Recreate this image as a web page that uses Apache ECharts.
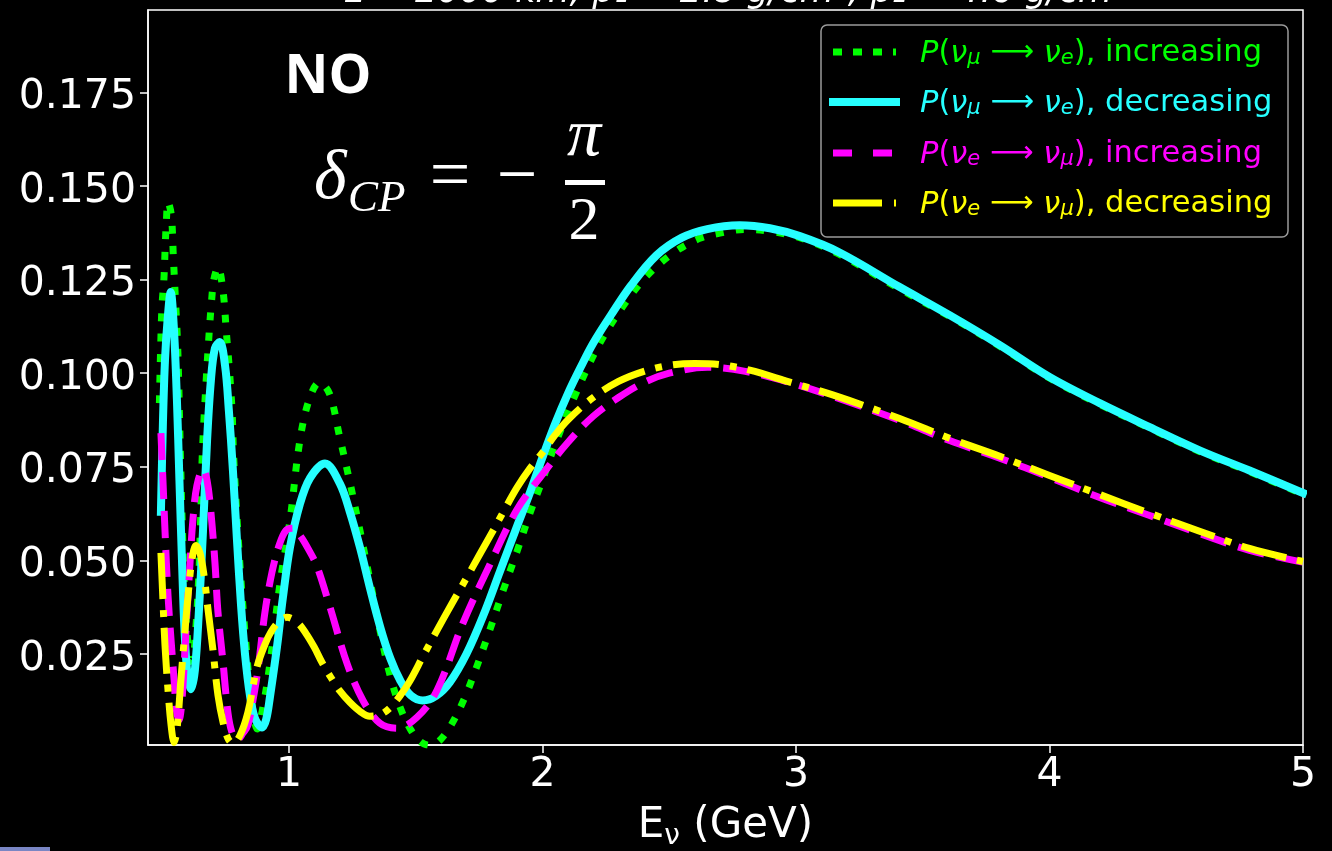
<!DOCTYPE html>
<html>
<head>
<meta charset="utf-8">
<script src="https://cdn.jsdelivr.net/npm/echarts@6/dist/echarts.min.js"></script>
<style>
html,body{margin:0;padding:0;background:#000;}
#chart{width:1332px;height:851px;}
</style>
</head>
<body>
<div id="chart"></div>
<script>
// ---------- data (E in GeV, probability) ----------
const xTicks = [1, 2, 3, 4, 5];
const yTicks = [0.025, 0.05, 0.075, 0.1, 0.125, 0.15, 0.175];
const seriesNames = [
  'P(νμ→νe), increasing',
  'P(νμ→νe), decreasing',
  'P(νe→νμ), increasing',
  'P(νe→νμ), decreasing'
];

const numuNueIncreasing = [
  [0.489,0.092],[0.494,0.107],[0.499,0.1177],[0.507,0.1255],[0.512,0.134],[0.516,0.14],[0.523,0.1457],
  [0.536,0.1422],[0.544,0.131],[0.552,0.120],[0.56,0.109],[0.565,0.098],[0.572,0.078],[0.58,0.058],
  [0.59,0.040],[0.60,0.029],[0.612,0.023],[0.622,0.024],[0.632,0.031],[0.645,0.047],[0.652,0.062],
  [0.657,0.076],[0.664,0.0866],[0.673,0.0975],[0.683,0.1085],[0.695,0.1195],[0.704,0.1251],[0.72,0.1283],
  [0.74,0.1219],[0.753,0.111],[0.766,0.100],[0.776,0.0893],[0.782,0.0775],[0.806,0.0495],[0.83,0.028],
  [0.85,0.014],[0.875,0.005],[0.9,0.0118],[0.925,0.0225],[0.965,0.044],[1.004,0.0607],[1.043,0.082],
  [1.08,0.093],[1.12,0.0975],[1.16,0.0945],[1.20,0.083],[1.24,0.071],[1.28,0.058],[1.32,0.0445],
  [1.36,0.031],[1.40,0.019],[1.44,0.0105],[1.48,0.0048],[1.52,0.0015],[1.556,0.0006],[1.59,0.0016],
  [1.635,0.0055],[1.69,0.0128],[1.74,0.0215],[1.79,0.031],[1.84,0.041],[1.90,0.0525],[1.95,0.0625],
  [2.0,0.0715],[2.05,0.081],[2.128,0.094],[2.226,0.108],[2.325,0.1186],[2.412,0.126],[2.514,0.132],
  [2.62,0.136],[2.7,0.1374],[2.798,0.1384],[2.897,0.1379],[3.015,0.1362],[3.17,0.1318],[3.409,0.1225],
  [3.606,0.1152],[3.804,0.1072],[4.0,0.0987],[4.198,0.0917],[4.395,0.0853],[4.592,0.0791],[4.789,0.0737],
  [5.0,0.0677]
];

const numuNueDecreasing = [
  [0.495,0.063],[0.503,0.087],[0.511,0.1035],[0.521,0.114],[0.5335,0.1217],[0.5465,0.1115],[0.558,0.093],
  [0.568,0.0714],[0.578,0.050],[0.588,0.0313],[0.600,0.0193],[0.6135,0.0156],[0.629,0.0207],[0.645,0.0367],
  [0.661,0.058],[0.677,0.082],[0.692,0.098],[0.708,0.1067],[0.727,0.1083],[0.748,0.102],[0.763,0.090],
  [0.779,0.074],[0.795,0.0554],[0.811,0.038],[0.827,0.0247],[0.846,0.014],[0.866,0.0078],[0.894,0.0054],
  [0.91,0.0075],[0.925,0.0135],[0.953,0.027],[0.976,0.040],[1.004,0.0535],[1.043,0.065],[1.083,0.072],
  [1.142,0.0759],[1.201,0.0705],[1.24,0.063],[1.28,0.0535],[1.32,0.0425],[1.36,0.0322],[1.40,0.0238],
  [1.44,0.0178],[1.48,0.014],[1.528,0.0126],[1.58,0.0138],[1.635,0.0175],[1.70,0.025],[1.765,0.035],
  [1.832,0.047],[1.899,0.059],[1.95,0.068],[2.0,0.0775],[2.05,0.0865],[2.1,0.0945],[2.15,0.1015],
  [2.2,0.108],[2.27,0.1155],[2.35,0.1235],[2.45,0.1315],[2.55,0.1362],[2.65,0.1385],[2.778,0.1395],
  [2.897,0.1387],[3.015,0.1366],[3.17,0.1323],[3.409,0.123],[3.606,0.1155],[3.804,0.1075],[4.0,0.099],
  [4.198,0.092],[4.395,0.0856],[4.592,0.0794],[4.789,0.074],[5.0,0.068]
];

const nueNumuIncreasing = [
  [0.495,0.084],[0.503,0.0714],[0.511,0.058],[0.523,0.0406],[0.535,0.0287],[0.547,0.018],[0.556,0.010],
  [0.566,0.0073],[0.578,0.0126],[0.594,0.0316],[0.608,0.0473],[0.621,0.0607],[0.637,0.070],[0.661,0.0743],
  [0.677,0.0714],[0.692,0.063],[0.708,0.0495],[0.72,0.0362],[0.74,0.0228],[0.759,0.0095],[0.775,0.0041],
  [0.795,0.002],[0.819,0.0039],[0.838,0.006],[0.858,0.0126],[0.878,0.021],[0.905,0.036],[0.933,0.0468],
  [0.961,0.054],[0.988,0.058],[1.016,0.0586],[1.043,0.0567],[1.075,0.0532],[1.11,0.0485],[1.162,0.0375],
  [1.229,0.0225],[1.292,0.0126],[1.359,0.0065],[1.426,0.0052],[1.505,0.0081],[1.584,0.0153],[1.686,0.0332],
  [1.793,0.049],[1.899,0.0635],[2.0,0.073],[2.1,0.0815],[2.2,0.0885],[2.3,0.0935],[2.4,0.0975],[2.5,0.1000],
  [2.65,0.1016],[2.8,0.1005],[3.0,0.0970],[3.2,0.0925],[3.409,0.0874],[3.606,0.082],[3.804,0.0773],
  [4.0,0.0722],[4.198,0.0668],[4.395,0.062],[4.592,0.0572],[4.789,0.0527],[5.0,0.0495]
];

const nueNumuDecreasing = [
  [0.495,0.052],[0.503,0.0393],[0.511,0.0273],[0.523,0.0153],[0.535,0.006],[0.547,0.0014],[0.558,0.0046],
  [0.574,0.0183],[0.59,0.0313],[0.602,0.0406],[0.617,0.050],[0.633,0.054],[0.649,0.052],[0.665,0.046],
  [0.681,0.0367],[0.70,0.0262],[0.72,0.014],[0.74,0.0068],[0.759,0.0025],[0.779,0.0011],[0.807,0.0033],
  [0.838,0.0094],[0.874,0.0215],[0.905,0.0275],[0.93,0.031],[0.961,0.0337],[0.992,0.0348],[1.032,0.0335],
  [1.067,0.0305],[1.10,0.0268],[1.13,0.0228],[1.165,0.0188],[1.20,0.0152],[1.24,0.0121],[1.28,0.0097],
  [1.319,0.0084],[1.359,0.0088],[1.398,0.0106],[1.438,0.0138],[1.477,0.0178],[1.528,0.0243],[1.584,0.0313],
  [1.643,0.0385],[1.702,0.0455],[1.75,0.0513],[1.80,0.0573],[1.85,0.0635],[1.90,0.0695],[1.95,0.0745],
  [2.0,0.0788],[2.05,0.0835],[2.1,0.0875],[2.2,0.0935],[2.3,0.0978],[2.4,0.1005],[2.5,0.1021],
  [2.6,0.1026],[2.7,0.1023],[2.818,0.1008],[2.976,0.0976],[3.145,0.0942],[3.409,0.0879],[3.606,0.0826],
  [3.804,0.0778],[4.0,0.0727],[4.198,0.0676],[4.395,0.0626],[4.592,0.0578],[4.789,0.0532],[5.0,0.0497]
];

// ---------- styling ----------
const GREEN = '#00ff00', CYAN = '#26ffff', MAGENTA = '#ff00ff', YELLOW = '#ffff00';
const FONT = 'DejaVu Sans';
const MATH = 'Liberation Serif';

const chart = echarts.init(document.getElementById('chart'), null, {renderer: 'canvas'});

function legendRich(color) {
  return {
    n: {fill: color, fontSize: 30.5, fontFamily: FONT, lineHeight: 36, verticalAlign: 'bottom'},
    i: {fill: color, fontSize: 30.5, fontFamily: FONT, fontStyle: 'italic', lineHeight: 36, verticalAlign: 'bottom'},
    s: {fill: color, fontSize: 21, fontFamily: FONT, fontStyle: 'italic', lineHeight: 16, verticalAlign: 'bottom'}
  };
}
function legendLabel(a, b, word) {
  return '{i|P}{n|(}{i|ν}{s|' + a + '}{n| ⟶ }{i|ν}{s|' + b + '}{n|), ' + word + '}';
}

const legendRows = [
  {y: 52, color: GREEN, a: 'μ', b: 'e', word: 'increasing', dash: [9, 11], width: 7, cap: 'butt'},
  {y: 102, color: CYAN, a: 'μ', b: 'e', word: 'decreasing', dash: null, width: 8, cap: 'square'},
  {y: 153, color: MAGENTA, a: 'e', b: 'μ', word: 'increasing', dash: [19, 21], width: 7, cap: 'butt'},
  {y: 203, color: YELLOW, a: 'e', b: 'μ', word: 'decreasing', dash: [49, 12, 7, 11], width: 7, cap: 'butt'}
];

const graphics = [
  // clipped figure title above the axes
  {type: 'text', x: 735, y: -7, silent: true,
   style: {text: 'L = 2000 km, ρ₁ = 2.8 g/cm³, ρ₂ = 4.6 g/cm³', fill: '#fff', font: 'italic 35px ' + FONT,
           align: 'center', verticalAlign: 'middle'}},
  // NO label
  {type: 'text', x: 328, y: 78, silent: true,
   style: {text: 'NO', fill: '#fff', font: 'bold 54px "Open Sans"', align: 'center', verticalAlign: 'middle'}},
  // delta_CP = - pi / 2
  {type: 'text', x: 314, y: 180, silent: true,
   style: {text: 'δ', fill: '#fff', font: 'italic 70px ' + MATH, align: 'left', verticalAlign: 'middle'}},
  {type: 'text', x: 348, y: 199, silent: true,
   style: {text: 'CP', fill: '#fff', font: 'italic 45px ' + MATH, align: 'left', verticalAlign: 'middle'}},
  {type: 'text', x: 450, y: 179, silent: true,
   style: {text: '=', fill: '#fff', font: '72px ' + MATH, align: 'center', verticalAlign: 'middle'}},
  {type: 'text', x: 517, y: 179, silent: true,
   style: {text: '−', fill: '#fff', font: '72px ' + MATH, align: 'center', verticalAlign: 'middle'}},
  {type: 'text', x: 584, y: 137, silent: true,
   style: {text: 'π', fill: '#fff', font: 'italic 68px ' + MATH, align: 'center', verticalAlign: 'middle'}},
  {type: 'rect', shape: {x: 565, y: 180, width: 40, height: 5}, style: {fill: '#fff'}, silent: true},
  {type: 'text', x: 584, y: 223, silent: true,
   style: {text: '2', fill: '#fff', font: '62px ' + MATH, align: 'center', verticalAlign: 'middle'}},
  // legend box
  {type: 'rect', shape: {x: 821, y: 25, width: 467, height: 212, r: 6}, silent: true, z: 100,
   style: {fill: 'rgba(0,0,0,0.8)', stroke: '#9a9a9a', lineWidth: 1.5}},
  // small artefact at bottom-left of the screenshot
  {type: 'rect', shape: {x: 0, y: 847, width: 50, height: 4}, style: {fill: '#7a86c4'}, silent: true}
];
legendRows.forEach(function (r) {
  graphics.push({type: 'line', silent: true, z: 101,
    shape: {x1: 833, y1: r.y, x2: 896, y2: r.y},
    style: {stroke: r.color, lineWidth: r.width, lineDash: r.dash, lineCap: r.cap}});
  graphics.push({type: 'text', silent: true, z: 101, x: 920, y: r.y - 1,
    style: {text: legendLabel(r.a, r.b, r.word), rich: legendRich(r.color), align: 'left', verticalAlign: 'middle'}});
});

function lineSeries(name, data, color, width, dash, cap, z) {
  return {
    name: name, type: 'line', data: data, z: z,
    symbol: 'none', showSymbol: false, smooth: 0.35, clip: true,
    lineStyle: {color: color, width: width, type: dash || 'solid', cap: cap, join: 'round'},
    emphasis: {disabled: true}
  };
}

const option = {
  backgroundColor: '#000',
  animation: false,
  textStyle: {fontFamily: FONT},
  grid: {left: 148, top: 10, width: 1155, height: 735, show: true, borderColor: '#ffffff', borderWidth: 1.5,
         backgroundColor: '#000', containLabel: false, outerBoundsMode: 'none'},
  xAxis: {
    type: 'value', min: 0.444, max: 5,
    axisLine: {show: true, onZero: false, lineStyle: {color: '#fff', width: 1.5}},
    axisTick: {show: true, length: 8, customValues: xTicks, lineStyle: {color: '#fff', width: 1.5}},
    axisLabel: {customValues: xTicks, color: '#fff', fontSize: 41, fontFamily: FONT, margin: 10},
    splitLine: {show: false},
    name: '{b|E}{s|ν}{b| (GeV)}', nameLocation: 'middle', nameGap: 42,
    nameTextStyle: {
      rich: {
        b: {color: '#fff', fontSize: 42, fontFamily: FONT, lineHeight: 46},
        s: {color: '#fff', fontSize: 28, fontFamily: FONT, lineHeight: 18, padding: [22, 0, 0, 0]}
      }
    }
  },
  yAxis: {
    type: 'value', min: 0.0007, max: 0.197,
    axisLine: {show: true, onZero: false, lineStyle: {color: '#fff', width: 1.5}},
    axisTick: {show: true, length: 8, customValues: yTicks, lineStyle: {color: '#fff', width: 1.5}},
    axisLabel: {customValues: yTicks, color: '#fff', fontSize: 41, fontFamily: FONT, margin: 12,
                verticalAlign: 'top', lineHeight: 10,
                formatter: function (v) { return v.toFixed(3); }},
    splitLine: {show: false}
  },
  graphic: graphics,
  series: [
    lineSeries(seriesNames[0], numuNueIncreasing, GREEN, 7, [8, 12.5], 'butt', 2),
    lineSeries(seriesNames[1], numuNueDecreasing, CYAN, 8, null, 'square', 3),
    lineSeries(seriesNames[2], nueNumuIncreasing, MAGENTA, 7, [27, 12], 'butt', 4),
    lineSeries(seriesNames[3], nueNumuDecreasing, YELLOW, 7, [46, 11, 7, 11], 'butt', 5)
  ]
};
chart.setOption(option);
</script>
</body>
</html>
